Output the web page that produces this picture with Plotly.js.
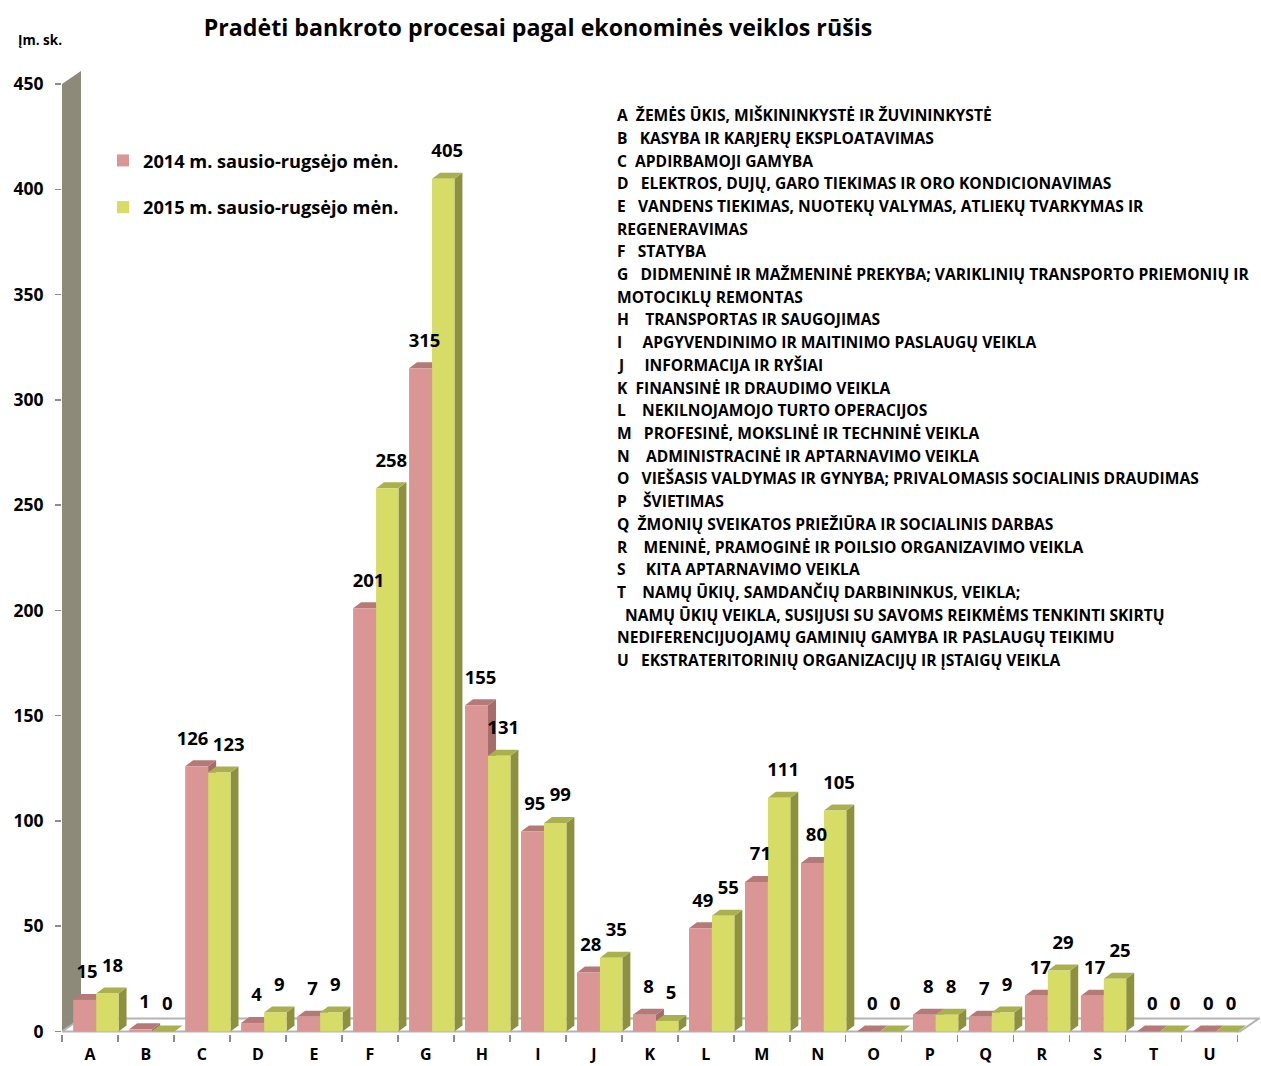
<!DOCTYPE html>
<html>
<head>
<meta charset="utf-8">
<script src="https://cdn.plot.ly/plotly-3.0.1.min.js"></script>
<style>html,body{margin:0;padding:0;background:#fff;}#chart{width:1261px;height:1066px;}</style>
</head>
<body>
<div id="chart"></div>
<script>
// ---- data ----
const categories = ["A","B","C","D","E","F","G","H","I","J","K","L","M","N","O","P","Q","R","S","T","U"];
const values2014 = [15,1,126,4,7,201,315,155,95,28,8,49,71,80,0,8,7,17,17,0,0];
const values2015 = [18,0,123,9,9,258,405,131,99,35,5,55,111,105,0,8,9,29,25,0,0];
const seriesNames = ["2014 m. sausio-rugsėjo mėn.", "2015 m. sausio-rugsėjo mėn."];
const yTicks = [0,50,100,150,200,250,300,350,400,450];
const chartTitle = "Pradėti bankroto procesai pagal ekonominės veiklos rūšis";
const yTitle = "Įm. sk.";
const descLines = [
  "A\u00a0 ŽEMĖS ŪKIS, MIŠKININKYSTĖ IR ŽUVININKYSTĖ",
  "B\u00a0\u00a0 KASYBA IR KARJERŲ EKSPLOATAVIMAS",
  "C\u00a0 APDIRBAMOJI GAMYBA",
  "D\u00a0\u00a0 ELEKTROS, DUJŲ, GARO TIEKIMAS IR ORO KONDICIONAVIMAS",
  "E\u00a0\u00a0 VANDENS TIEKIMAS, NUOTEKŲ VALYMAS, ATLIEKŲ TVARKYMAS IR",
  "REGENERAVIMAS",
  "F\u00a0\u00a0 STATYBA",
  "G\u00a0\u00a0 DIDMENINĖ IR MAŽMENINĖ PREKYBA; VARIKLINIŲ TRANSPORTO PRIEMONIŲ IR",
  "MOTOCIKLŲ REMONTAS",
  "H\u00a0\u00a0\u00a0 TRANSPORTAS IR SAUGOJIMAS",
  "I\u00a0\u00a0\u00a0\u00a0 APGYVENDINIMO IR MAITINIMO PASLAUGŲ VEIKLA",
  "J\u00a0\u00a0\u00a0\u00a0 INFORMACIJA IR RYŠIAI",
  "K\u00a0 FINANSINĖ IR DRAUDIMO VEIKLA",
  "L\u00a0\u00a0\u00a0 NEKILNOJAMOJO TURTO OPERACIJOS",
  "M\u00a0\u00a0 PROFESINĖ, MOKSLINĖ IR TECHNINĖ VEIKLA",
  "N\u00a0\u00a0\u00a0 ADMINISTRACINĖ IR APTARNAVIMO VEIKLA",
  "O\u00a0\u00a0 VIEŠASIS VALDYMAS IR GYNYBA; PRIVALOMASIS SOCIALINIS DRAUDIMAS",
  "P\u00a0\u00a0\u00a0 ŠVIETIMAS",
  "Q\u00a0\u00a0ŽMONIŲ SVEIKATOS PRIEŽIŪRA IR SOCIALINIS DARBAS",
  "R\u00a0\u00a0\u00a0 MENINĖ, PRAMOGINĖ IR POILSIO ORGANIZAVIMO VEIKLA",
  "S\u00a0\u00a0\u00a0\u00a0 KITA APTARNAVIMO VEIKLA",
  "T\u00a0\u00a0\u00a0 NAMŲ ŪKIŲ, SAMDANČIŲ DARBININKUS, VEIKLA;",
  "\u00a0\u00a0NAMŲ ŪKIŲ VEIKLA, SUSIJUSI SU SAVOMS REIKMĖMS TENKINTI SKIRTŲ",
  "NEDIFERENCIJUOJAMŲ GAMINIŲ GAMYBA IR PASLAUGŲ TEIKIMU",
  "U\u00a0\u00a0 EKSTRATERITORINIŲ ORGANIZACIJŲ IR ĮSTAIGŲ VEIKLA"
];

// ---- geometry / styles ----
const FONT = "'Open Sans', Lato, sans-serif";
const W = 1261, H = 1066;
const xRange = [-0.5, 20.9];
const yRange = [-1.2, 470];
const pxPerX = 56, pxPerY = 2.1044;
const mL = 62;
const plotW = (xRange[1]-xRange[0])*pxPerX;
const mR = W - mL - plotW;
const y0px = 1031;
const mT = y0px - yRange[1]*pxPerY;
const plotH = (yRange[1]-yRange[0])*pxPerY;
const mB = H - mT - plotH;
const px2paperX = px => (px - mL)/plotW;
const px2paperY = py => 1 - (py - mT)/plotH;

const DX = 8/pxPerX, DY = 6/pxPerY;          // bar depth
const FDX = 19/pxPerX, FDY = 13/pxPerY;      // floor / wall depth
const off1 = -0.30, off2 = 0.11, w1 = 0.41, w2 = 0.40;
const colors = {
  pinkFront:"#D99694", pinkTop:"#B57A78", pinkSide:"#A56C6A",
  yelFront:"#D6DC66", yelTop:"#ABB04E", yelSide:"#8C903F",
  wall:"#8D8A7A", floorLine:"#B4B4B4"
};
const LBL_SIZE = 18.5;

const xs = categories.map((c,i)=>i);

const shapes = [];
// wall
const yTop = yTicks[yTicks.length-1];
shapes.push({type:"path", xref:"x", yref:"y", layer:"below",
  path:`M${xRange[0]},0 L${xRange[0]},${yTop} L${xRange[0]+FDX},${yTop+FDY} L${xRange[0]+FDX},${FDY} Z`,
  fillcolor:colors.wall, line:{width:0}});
// floor
const floorR = 20.54;
shapes.push({type:"path", xref:"x", yref:"y", layer:"below",
  path:`M${xRange[0]},0 L${floorR},0 L${floorR+FDX},${FDY} L${xRange[0]+FDX},${FDY} Z`,
  fillcolor:"#FFFFFF", line:{color:colors.floorLine, width:2}});

function box(x0, w, v, top, side){
  const x1 = x0 + w;
  shapes.push({type:"path", xref:"x", yref:"y", layer:"below",
    path:`M${x1},0 L${x1},${v} L${x1+DX},${v+DY} L${x1+DX},${DY} Z`, fillcolor:side, line:{width:0}});
  shapes.push({type:"path", xref:"x", yref:"y", layer:"below",
    path:`M${x0},${v} L${x1},${v} L${x1+DX},${v+DY} L${x0+DX},${v+DY} Z`, fillcolor:top, line:{width:0}});
}
xs.forEach((x,i)=>{
  box(x+off1, w1, values2014[i], colors.pinkTop, colors.pinkSide);
  box(x+off2, w2, values2015[i], colors.yelTop, colors.yelSide);
});

// label positions: centred over bar + depth, spread apart when neighbours would collide
const digitW = 0.58*LBL_SIZE;
const lx1 = [], lx2 = [];
xs.forEach((x,i)=>{
  let a = x+off1+w1/2+DX/2, b = x+off2+w2/2+DX/2;
  const need = (String(values2014[i]).length + String(values2015[i]).length)*digitW/2 + 4;
  const dist = (b-a)*pxPerX;
  const close = Math.abs(values2014[i]-values2015[i])*pxPerY < LBL_SIZE;
  if (close && need > dist){
    const extra = (need-dist)/pxPerX;
    a -= extra*0.6; b += extra*0.4;
  }
  lx1.push(a); lx2.push(b);
});

const lblGap = 11/pxPerY;
const traces = [
  {type:"bar", x:xs, y:values2014, name:seriesNames[0], offset:off1, width:w1,
   marker:{color:colors.pinkFront, line:{width:0}}, legendgroup:"a", hoverinfo:"y"},
  {type:"bar", x:xs, y:values2015, name:seriesNames[1], offset:off2, width:w2,
   marker:{color:colors.yelFront, line:{width:0}}, legendgroup:"b", hoverinfo:"y"},
  {type:"scatter", mode:"text", x:lx1, y:values2014.map(v=>v+DY+lblGap),
   text:values2014.map(String), textposition:"top center", showlegend:false, hoverinfo:"skip",
   textfont:{family:FONT, size:LBL_SIZE, color:"#000", weight:"bold"}, cliponaxis:false},
  {type:"scatter", mode:"text", x:lx2, y:values2015.map(v=>v+DY+lblGap),
   text:values2015.map(String), textposition:"top center", showlegend:false, hoverinfo:"skip",
   textfont:{family:FONT, size:LBL_SIZE, color:"#000", weight:"bold"}, cliponaxis:false}
];

const annotations = [];
annotations.push({xref:"paper", yref:"paper", x:px2paperX(16), y:px2paperY(40), xanchor:"left", yanchor:"middle",
  text:yTitle, showarrow:false, font:{family:FONT, size:13.5, color:"#000", weight:"bold"}});
const descTop = 115, descPitch = 22.7;
descLines.forEach((t,i)=>{
  annotations.push({xref:"paper", yref:"paper", x:px2paperX(615), y:px2paperY(descTop + i*descPitch),
    xanchor:"left", yanchor:"middle", text:t, showarrow:false,
    font:{family:FONT, size:15.6, color:"#000", weight:"bold"}});
});

const layout = {
  width:W, height:H,
  margin:{l:mL, r:mR, t:mT, b:mB, pad:0},
  paper_bgcolor:"#fff", plot_bgcolor:"rgba(0,0,0,0)",
  font:{family:FONT, color:"#000"},
  title:{text:chartTitle, font:{family:FONT, size:23.2, color:"#000", weight:"bold"},
    xref:"container", yref:"container", x:538/W, y:1-28/H, xanchor:"center", yanchor:"middle"},
  barmode:"overlay",
  showlegend:true,
  legend:{x:px2paperX(103), y:px2paperY(142), xanchor:"left", yanchor:"top",
    font:{family:FONT, size:18.2, color:"#000", weight:"bold"}, bgcolor:"rgba(0,0,0,0)",
    traceorder:"grouped", tracegroupgap:20},
  xaxis:{range:xRange, tickmode:"array", tickvals:xs, ticktext:categories,
    showgrid:false, zeroline:false, showline:false, ticks:"",
    tickfont:{family:FONT, size:16, color:"#000", weight:"bold"}, ticklabelstandoff:9,
    minor:{tick0:-0.5, dtick:1, ticks:"outside", ticklen:7, tickcolor:"#8C8C8C", tickwidth:1.5, showgrid:false}},
  yaxis:{range:yRange, tickmode:"array", tickvals:yTicks, showgrid:false, zeroline:false, showline:false,
    ticks:"outside", ticklen:6, tickcolor:"#8C8C8C", tickwidth:1.5,
    tickfont:{family:FONT, size:17.5, color:"#000", weight:"bold"}, ticklabelstandoff:8},
  shapes:shapes,
  annotations:annotations
};

Plotly.newPlot("chart", traces, layout, {displayModeBar:false, staticPlot:true});
</script>
</body>
</html>
